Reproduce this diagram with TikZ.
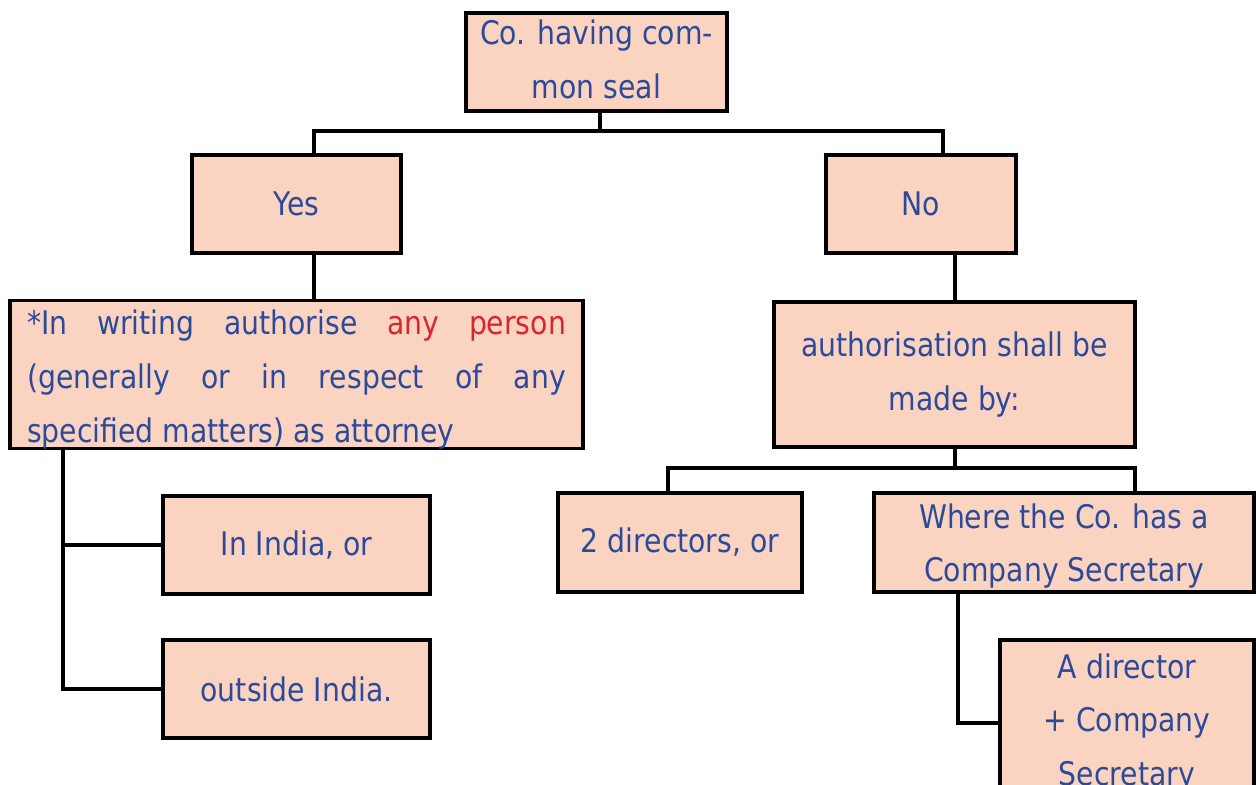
\documentclass[tikz,border=0pt]{standalone}
\usepackage{fontspec}
\newfontfamily\chartfont[FakeStretch=0.87]{DejaVu Sans}
\usepackage{tikz}
\usetikzlibrary{positioning,calc}
\definecolor{boxfill}{HTML}{FBD3C1}
\definecolor{txtblue}{HTML}{2C4A9A}
\definecolor{anyred}{HTML}{D8262C}
\tikzset{
  box/.style={rectangle, draw=black, line width=1.8pt, fill=boxfill, text=txtblue, inner sep=0pt, align=center,
    font=\chartfont\fontsize{18.5pt}{30.5pt}\selectfont},
  link/.style={draw=black, line width=1.9pt}
}

\begin{document}
\begin{tikzpicture}[x=0.02cm, y=-0.02cm]
    \useasboundingbox (0,0) rectangle (1256,784);
    \clip (0,0) rectangle (1256,784);
    \node[box, minimum width=5.22cm, minimum height=1.96cm, text depth=3.4pt] (seal) at (596.5,62) {Co. having com-\\mon seal};
    \node[box, minimum width=4.18cm, minimum height=1.96cm] (yes) at (296.5,204) {Yes};
    \node[box, minimum width=3.8cm, minimum height=1.96cm] (no) at (921,204) {No};
    \node[box, minimum width=11.46cm, minimum height=2.9cm, text width=10.78cm, align=justify, text height=19.8pt] (attorney) at (296.5,374.5)
        {*In writing authorise {\color{anyred}any person}\linebreak (generally or in respect of any\linebreak specified matters) as attorney};
    \node[box, minimum width=7.22cm, minimum height=2.9cm] (auth) at (954.5,374.5) {authorisation shall be\\made by:};
    \node[box, minimum width=5.34cm, minimum height=1.96cm] (india) at (296.5,545) {In India, or};
    \node[box, minimum width=5.34cm, minimum height=1.96cm] (outside) at (296.5,689) {outside India.};
    \node[box, minimum width=4.88cm, minimum height=1.98cm] (twodir) at (680,542.5) {2 directors, or};
    \node[box, minimum width=7.6cm, minimum height=1.98cm, text depth=-4pt] (wherecs) at (1064,542.5) {Where the Co. has a\\Company Secretary};
    \node[box, minimum width=5.08cm, minimum height=3.32cm] (onedir) at (1127,723) {A director\\+ Company\\Secretary};
    \coordinate (forkseal) at (600,131);
    \coordinate (yesdrop) at (314,0);
    \coordinate (nodrop) at (943,0);
    \coordinate (authdrop) at (955,0);
    \coordinate (forkauth) at (955,468);
    \coordinate (twodrop) at (668,0);
    \coordinate (csdrop) at (1135,0);
    \coordinate (spine) at (63,0);
    \coordinate (csspine) at (958,0);
    \draw[link] (seal.south -| forkseal) -- (forkseal);
    \draw[link] (yes.north -| yesdrop) |- (forkseal) -| (no.north -| nodrop);
    \draw[link] (yes.south -| yesdrop) -- (attorney.north -| yesdrop);
    \draw[link] (no.south -| authdrop) -- (auth.north -| authdrop);
    \draw[link] (auth.south -| forkauth) -- (forkauth);
    \draw[link] (twodir.north -| twodrop) |- (forkauth) -| (wherecs.north -| csdrop);
    \draw[link] (attorney.south -| spine) |- (outside.west);
    \draw[link] (india.west) -- (india.west -| spine);
    \draw[link] (wherecs.south -| csspine) |- (onedir.west);
\end{tikzpicture}
\end{document}
